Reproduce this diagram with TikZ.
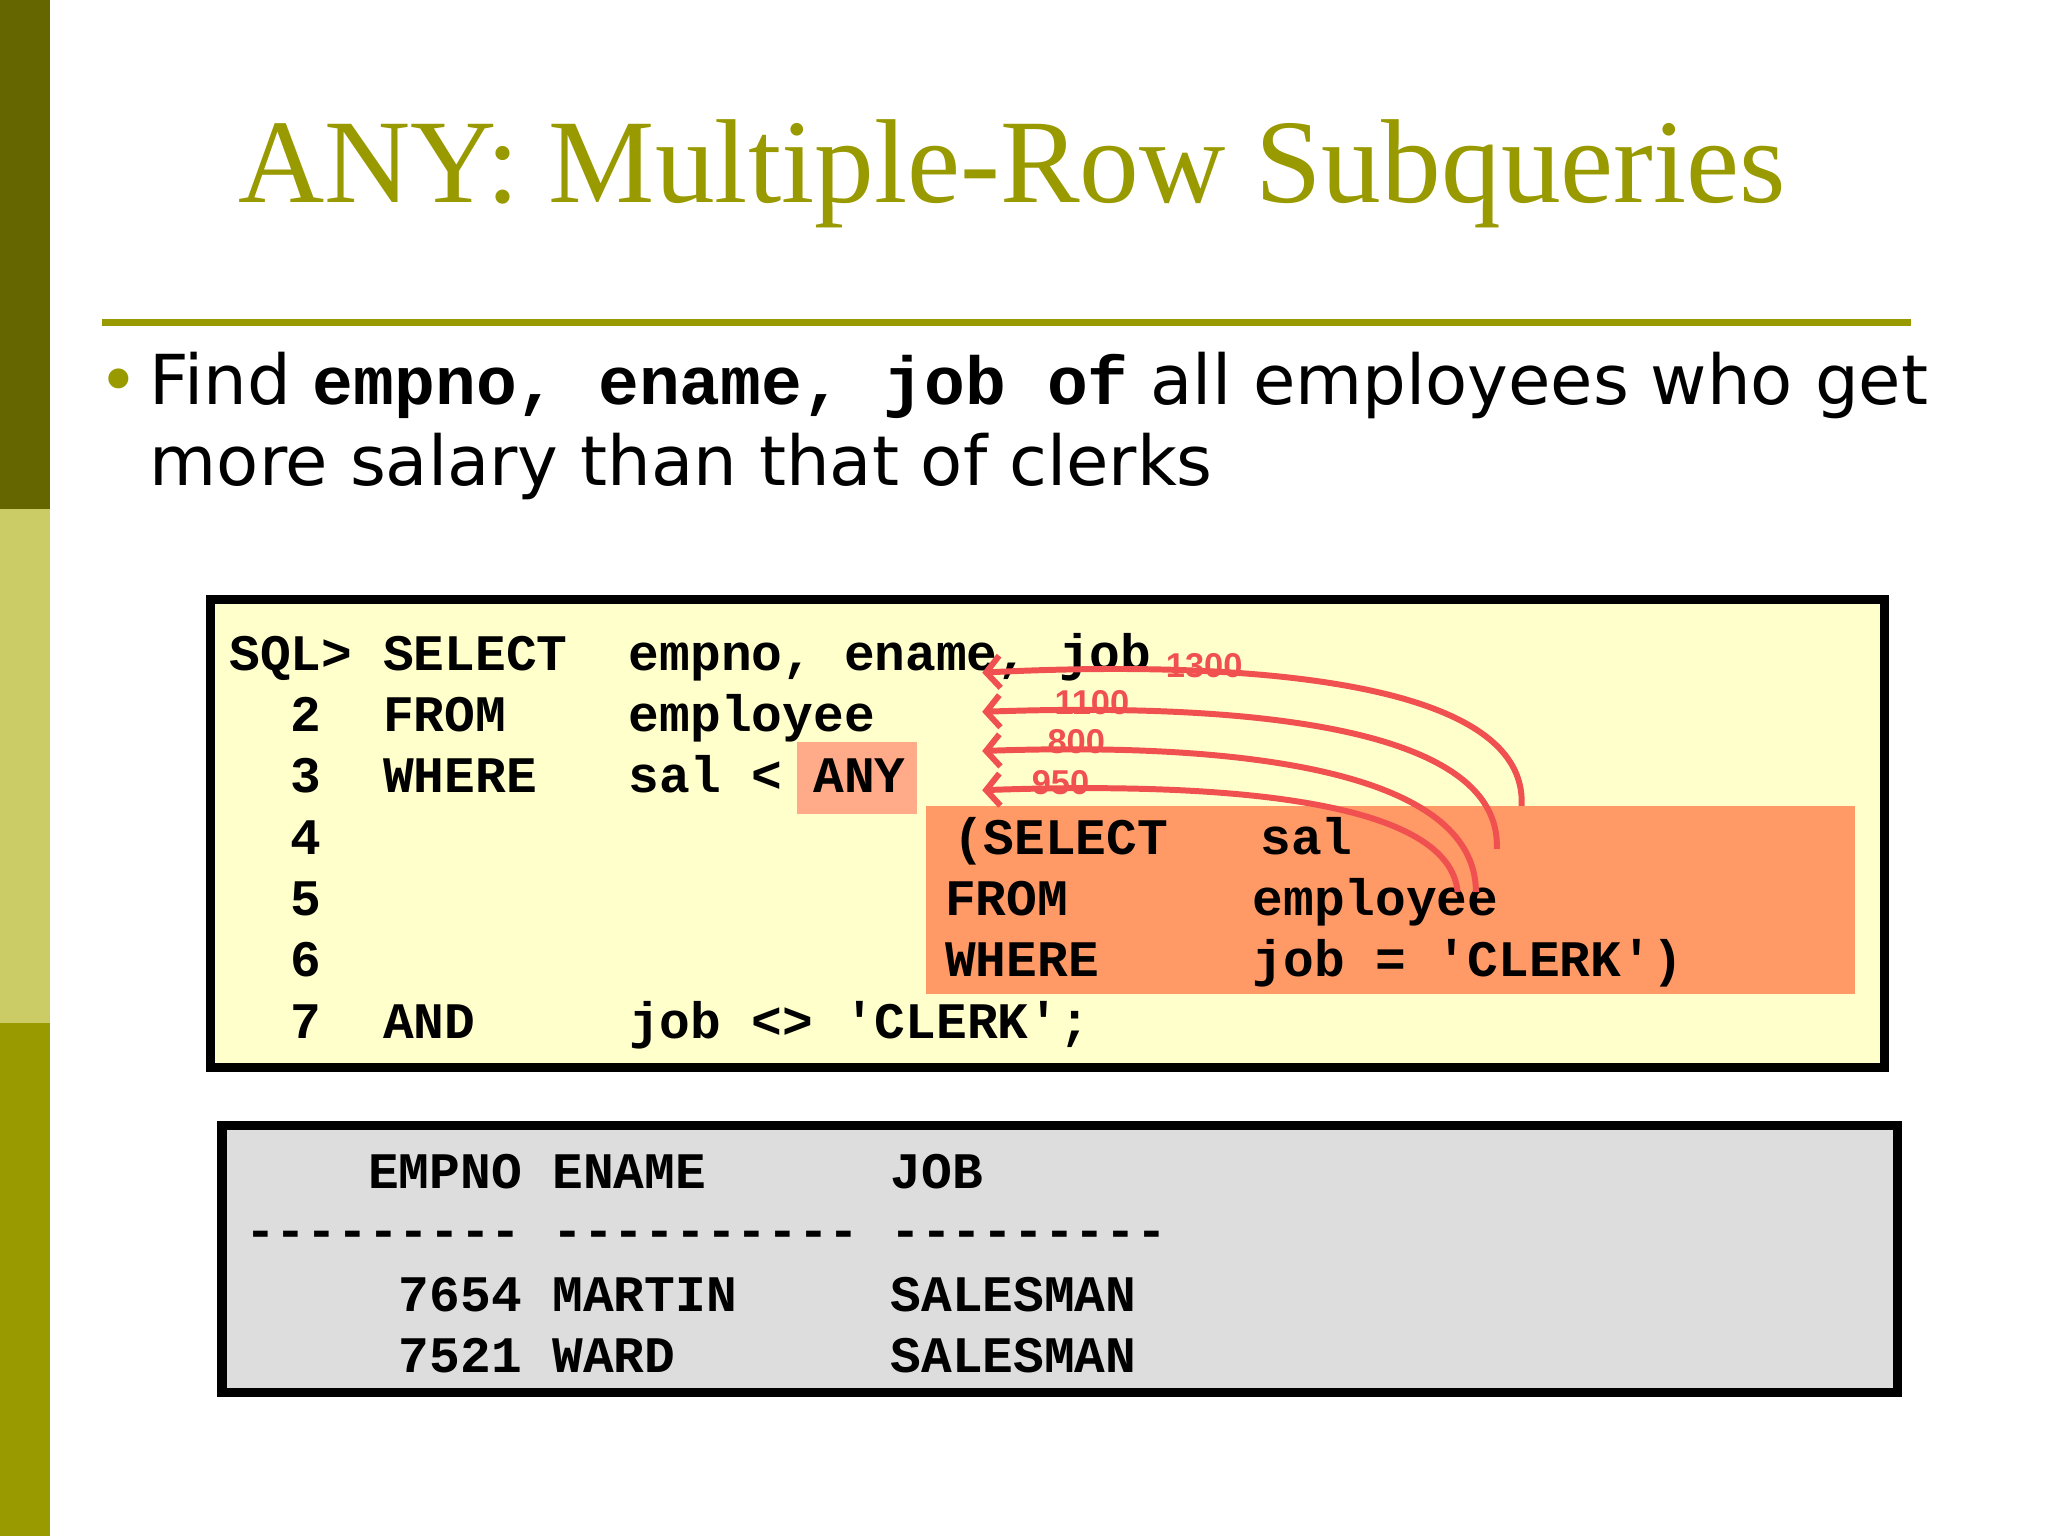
\documentclass[tikz,border=0pt]{standalone}
\usepackage{fontspec}
\setmainfont{DejaVu Sans}
\newfontfamily\titlefont{Liberation Serif}
\newfontfamily\codefont{Liberation Mono}
\newfontfamily\labfont{Liberation Sans}
\usetikzlibrary{arrows.meta}
\definecolor{olive}{HTML}{999900}
\definecolor{darkolive}{HTML}{666600}
\definecolor{lightolive}{HTML}{CCCC66}
\definecolor{codebg}{HTML}{FFFFCC}
\definecolor{subbg}{HTML}{FF9966}
\definecolor{anybg}{HTML}{FFAA88}
\definecolor{resbg}{HTML}{DDDDDD}
\definecolor{arr}{HTML}{F05050}
\tikzset{
 code/.style={anchor=base west,inner sep=0pt,font=\codefont\bfseries\fontsize{11.15pt}{13pt}\selectfont},
 lab/.style={inner sep=0pt,text=arr,font=\labfont\bfseries\fontsize{7.5pt}{8pt}\selectfont},
 arrow/.style={draw=arr,line width=1.3pt,-{Straight Barb[length=3pt,width=7pt]}}
}
\begin{document}
\begin{tikzpicture}[x=0.01cm,y=-0.01cm]
\useasboundingbox (0,0) rectangle (1568,1176);
\fill[white] (0,0) rectangle (1568,1176);
\fill[darkolive] (0,0) rectangle (38,390);
\fill[lightolive] (0,390) rectangle (38,783);
\fill[olive] (0,783) rectangle (38,1176);
\node[text=olive,font=\titlefont\fontsize{26pt}{30pt}\selectfont,anchor=base] (title) at (775,155) {ANY: Multiple-Row Subqueries};
\draw[olive,line width=1.5pt] (78,247) -- (1463,247);
\node[anchor=base west,inner sep=0pt,font=\fontsize{15pt}{18pt}\selectfont,text=olive] (bul) at (75,310) {\textbullet};
\node[anchor=base west,inner sep=0pt,font=\fontsize{15pt}{18pt}\selectfont,align=left] (bt) at (114,310) {Find {\codefont\bfseries\fontsize{14.8pt}{18pt}\selectfont empno, ename, job of} all employees who get};
\node[anchor=base west,inner sep=0pt,font=\fontsize{15pt}{18pt}\selectfont] (bt2) at (114,372) {more salary than that of clerks};
% code box
\draw[fill=codebg,line width=2pt] (161,459) rectangle (1443,817);
\fill[subbg] (709,617) rectangle (1420,761);
\fill[anybg] (610,568) rectangle (702,623);
\node[code] (l1) at (175,513) {SQL>\ SELECT\ \ empno,\ ename,\ job};
\node[code] (l2) at (175,560) {\ \ 2\ \ FROM\ \ \ \ employee};
\node[code] (l3) at (175,607) {\ \ 3\ \ WHERE\ \ \ sal\ <\ ANY};
\node[code] (l4) at (175,654) {\ \ 4};
\node[code] (l5) at (175,701) {\ \ 5};
\node[code] (l6) at (175,748) {\ \ 6};
\node[code] (l7) at (175,795) {\ \ 7\ \ AND\ \ \ \ \ job\ <>\ 'CLERK';};
\node[code] (s4) at (729,654) {(SELECT\ \ \ sal};
\node[code] (s5) at (723,701) {FROM\ \ \ \ \ \ employee};
\node[code] (s6) at (723,748) {WHERE\ \ \ \ \ job\ =\ 'CLERK')};
% arrows
\coordinate (a1s) at (1165,617); \coordinate (a1e) at (752,515);
\coordinate (a2s) at (1146,650); \coordinate (a2e) at (752,545);
\coordinate (a3s) at (1130,683); \coordinate (a3e) at (752,575);
\coordinate (a4s) at (1116,683); \coordinate (a4e) at (752,605);
\draw[arrow] (a1s) .. controls (1170,520) and (950,505) .. (a1e);
\draw[arrow] (a2s) .. controls (1150,555) and (950,538) .. (a2e);
\draw[arrow] (a3s) .. controls (1130,590) and (950,568) .. (a3e);
\draw[arrow] (a4s) .. controls (1110,615) and (950,598) .. (a4e);
\node[lab] (n1) at (922,510) {1300};
\node[lab] (n2) at (836,538) {1100};
\node[lab] (n3) at (824,568) {800};
\node[lab] (n4) at (812,599) {950};
% result box
\draw[fill=resbg,line width=2pt] (170,862) rectangle (1453,1066);
\node[code] (r1) at (187,910) {\ \ \ \ EMPNO\ ENAME\ \ \ \ \ \ JOB};
\node[code] (r2) at (187,955) {---------\ ----------\ ---------};
\node[code] (r3) at (187,1004) {\ \ \ \ \ 7654\ MARTIN\ \ \ \ \ SALESMAN};
\node[code] (r4) at (187,1051) {\ \ \ \ \ 7521\ WARD\ \ \ \ \ \ \ SALESMAN};
\end{tikzpicture}
\end{document}
